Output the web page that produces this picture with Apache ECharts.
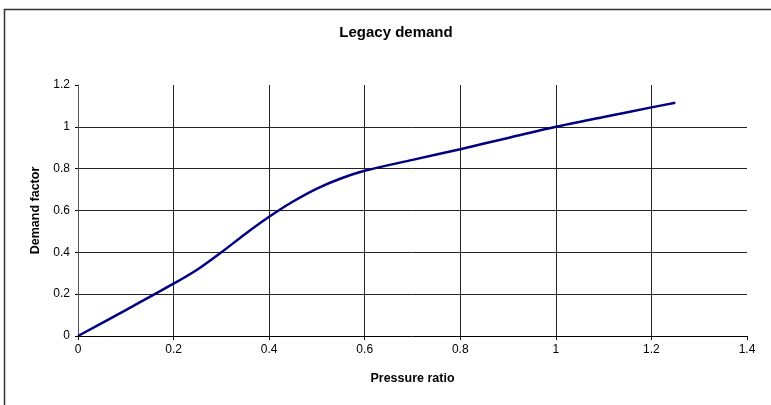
<!DOCTYPE html>
<html>
<head>
<meta charset="utf-8">
<script src="https://cdn.jsdelivr.net/npm/echarts@6/dist/echarts.min.js"></script>
<style>
  html, body { margin: 0; padding: 0; background: #fff; }
  #chart { width: 771px; height: 405px; }
</style>
</head>
<body>
<div id="chart"></div>
<script>
// Demand factor as a function of pressure ratio
const pressureRatio = [0, 0.1, 0.2, 0.25, 0.3, 0.35, 0.4, 0.45, 0.5, 0.55, 0.6, 0.7, 0.8, 0.9, 1.0, 1.1, 1.2, 1.25];
const demandFactor  = [0, 0.124, 0.25, 0.318, 0.400, 0.488, 0.570, 0.643, 0.705, 0.753, 0.790, 0.842, 0.893, 0.947, 1.0, 1.047, 1.093, 1.115];

const xTicks = [0, 0.2, 0.4, 0.6, 0.8, 1, 1.2, 1.4];
const yTicks = [0, 0.2, 0.4, 0.6, 0.8, 1, 1.2];

const points = pressureRatio.map((x, i) => [x, demandFactor[i]]);

const chart = echarts.init(document.getElementById('chart'), null, { renderer: 'canvas' });

const font = 'Liberation Sans, Arial, sans-serif';

chart.setOption({
  backgroundColor: '#ffffff',
  animation: false,
  title: {
    text: 'Legacy demand',
    left: 391,
    top: 20,
    textAlign: 'center',
    textStyle: { fontFamily: font, fontSize: 15, fontWeight: 'bold', color: '#000' }
  },
  graphic: [{
    type: 'rect',
    shape: { x: 4.5, y: 9.5, width: 820, height: 460 },
    style: { fill: 'none', stroke: '#333', lineWidth: 1.5 },
    silent: true
  }],
  grid: { left: 78, right: 24, top: 85, bottom: 69, containLabel: false },
  xAxis: {
    type: 'value',
    min: xTicks[0],
    max: xTicks[xTicks.length - 1],
    interval: 0.2,
    name: 'Pressure ratio',
    nameLocation: 'middle',
    nameGap: 36,
    nameTextStyle: { fontFamily: font, fontSize: 12.5, fontWeight: 'bold', color: '#000' },
    axisLine: { show: true, onZero: false, lineStyle: { color: '#000', width: 1 } },
    axisTick: { show: true, inside: false, length: 4, lineStyle: { color: '#000' } },
    axisLabel: {
      fontFamily: font, fontSize: 12, color: '#000', margin: 8,
      formatter: v => String(+v.toFixed(1))
    },
    splitLine: { show: true, showMinLine: false, showMaxLine: false, lineStyle: { color: '#222', width: 1 } }
  },
  yAxis: {
    type: 'value',
    min: yTicks[0],
    max: yTicks[yTicks.length - 1],
    interval: 0.2,
    name: 'Demand factor',
    nameLocation: 'middle',
    nameGap: 36,
    nameTextStyle: { fontFamily: font, fontSize: 12.5, fontWeight: 'bold', color: '#000' },
    axisLine: { show: true, onZero: false, lineStyle: { color: '#555', width: 1 } },
    axisTick: { show: true, inside: false, length: 3, lineStyle: { color: '#000' } },
    axisLabel: {
      fontFamily: font, fontSize: 12, color: '#000', margin: 8,
      formatter: v => String(+v.toFixed(1))
    },
    splitLine: { show: true, showMinLine: false, showMaxLine: false, lineStyle: { color: '#222', width: 1 } }
  },
  series: [{
    type: 'line',
    data: points,
    smooth: 0.3,
    showSymbol: false,
    lineStyle: { color: '#000080', width: 2.5 },
    clip: false
  }]
});
</script>
</body>
</html>
